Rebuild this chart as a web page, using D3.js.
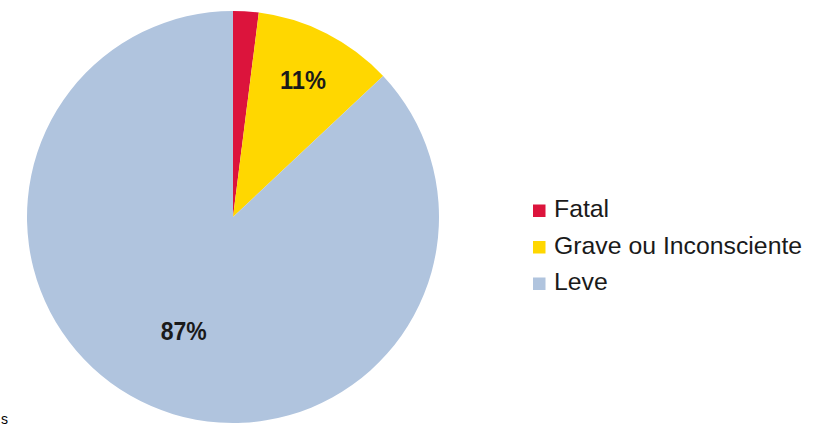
<!DOCTYPE html>
<html>
<head>
<meta charset="utf-8">
<script src="https://cdn.jsdelivr.net/npm/d3@7"></script>
<style>
  html, body { margin: 0; padding: 0; background: #fff; }
  svg { display: block; }
</style>
</head>
<body>
<svg id="chart" width="831" height="426"></svg>
<script>
// ---- Data ----
const categories = ["Fatal", "Grave ou Inconsciente", "Leve"];
const values = [2, 11, 87];
const labels = ["", "11%", "87%"];
const colors = ["#dc143c", "#ffd700", "#b0c4de"];

// ---- Layout ----
const width = 831, height = 426;
const cx = 233, cy = 217, radius = 206;
const labelRadius = [0, 154, 124];

const svg = d3.select("#chart");
const g = svg.append("g").attr("transform", `translate(${cx},${cy})`);

const pie = d3.pie().sort(null).value(d => d.value);
const arcs = pie(categories.map((c, i) => ({ name: c, value: values[i], i })));
const arc = d3.arc().innerRadius(0).outerRadius(radius);

g.selectAll("path.slice")
  .data(arcs)
  .join("path")
  .attr("class", "slice")
  .attr("d", arc)
  .attr("fill", d => colors[d.data.i]);

g.selectAll("text.lbl")
  .data(arcs.filter(d => labels[d.data.i] !== ""))
  .join("text")
  .attr("class", "lbl")
  .attr("transform", d => {
    const r = labelRadius[d.data.i];
    const c = d3.arc().innerRadius(r).outerRadius(r).centroid(d);
    return `translate(${c[0]},${c[1]})`;
  })
  .attr("text-anchor", "middle")
  .attr("dy", "0.36em")
  .attr("font-family", "'Liberation Sans', Arial, sans-serif")
  .attr("font-weight", "bold")
  .attr("font-size", 25)
  .attr("textLength", 46)
  .attr("lengthAdjust", "spacingAndGlyphs")
  .attr("fill", "#1a1a1a")
  .text(d => labels[d.data.i]);

// ---- Legend ----
const legendY = d3.scalePoint().domain(categories).range([217, 290]);
const legend = svg.append("g");
const items = legend.selectAll("g.item")
  .data(categories)
  .join("g")
  .attr("class", "item")
  .attr("transform", d => `translate(533,${legendY(d)})`);

items.append("rect")
  .attr("x", 0).attr("y", -12.5)
  .attr("width", 12.5).attr("height", 12.5)
  .attr("fill", (d, i) => colors[i]);

items.append("text")
  .attr("x", 21)
  .attr("y", 0)
  .attr("font-family", "'Liberation Sans', Arial, sans-serif")
  .attr("font-size", 24.8)
  .attr("fill", "#1a1a1a")
  .text(d => d);

// small glyph at bottom-left
svg.append("text")
  .attr("x", 1).attr("y", 424)
  .attr("font-family", "'Liberation Sans', Arial, sans-serif")
  .attr("font-size", 14)
  .attr("fill", "#000")
  .text("s");
</script>
</body>
</html>
